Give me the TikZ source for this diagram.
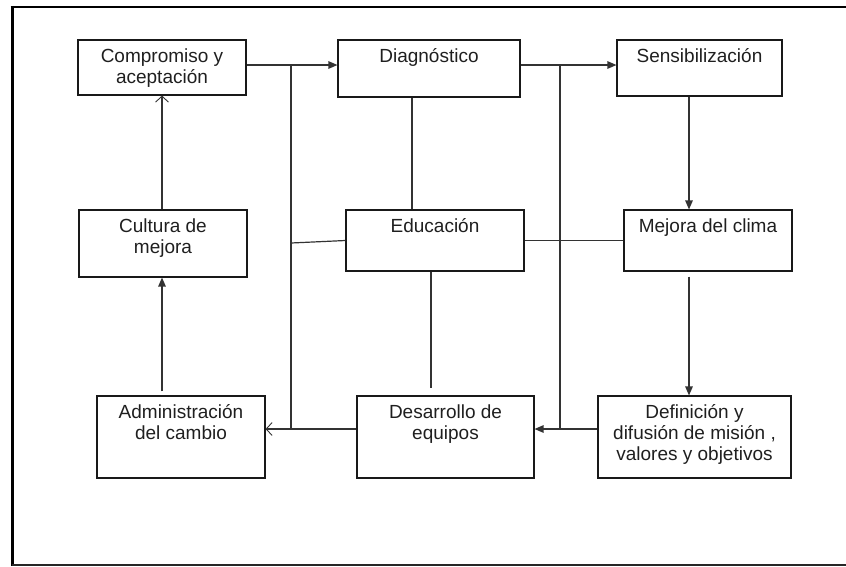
\documentclass[tikz,border=0pt]{standalone}
\usepackage{fontspec}
\setmainfont{Liberation Sans}
\usetikzlibrary{arrows.meta}
\begin{document}
\begin{tikzpicture}[x=1pt,y=-1pt,
  box/.style={draw=black!90, line width=1.1pt, rectangle, inner sep=0pt},
  txt/.style={anchor=north, inner sep=0pt, align=center, text=black!88,
    font=\fontsize{19}{21}\selectfont},
  link/.style={draw=black!80, line width=1.2pt},
  fill tip/.style={-{Triangle[length=9pt,width=7.5pt]}},
  open tip/.style={-{Straight Barb[length=6pt,width=13pt,line width=0.9pt]}}]
\useasboundingbox (0,0) rectangle (846,566);

% outer frame (open on the right)
\draw[line width=3pt, black] (12,5.75) -- (12,566);
\draw[line width=2.5pt, black] (10.5,7) -- (846,7);
\draw[line width=1.5pt, black!85] (12,565) -- (846,565);

% boxes
\node[box, minimum width=168pt, minimum height=55pt] (comp) at (162,67.5) {};
\node[box, minimum width=182pt, minimum height=57pt] (diag) at (429,68.5) {};
\node[box, minimum width=165pt, minimum height=56pt] (sens) at (699.5,68) {};
\node[box, minimum width=168pt, minimum height=67pt] (cult) at (163,243.5) {};
\node[box, minimum width=178pt, minimum height=61pt] (educ) at (435,240.5) {};
\node[box, minimum width=168pt, minimum height=61pt] (mej) at (708,240.5) {};
\node[box, minimum width=168pt, minimum height=82pt] (adm) at (181,437) {};
\node[box, minimum width=177pt, minimum height=82pt] (des) at (445.5,437) {};
\node[box, minimum width=193pt, minimum height=82pt] (def) at (694.5,437) {};

% box texts, set at the top of each box
\node[txt] (comp-t) at ([yshift=-8pt]comp.north) {\rule{0pt}{15pt}Compromiso y\\aceptación};
\node[txt] (diag-t) at ([yshift=-8pt]diag.north) {\rule{0pt}{15pt}Diagnóstico};
\node[txt] (sens-t) at ([yshift=-8pt]sens.north) {\rule{0pt}{15pt}Sensibilización};
\node[txt] (cult-t) at ([yshift=-8pt]cult.north) {\rule{0pt}{15pt}Cultura de\\mejora};
\node[txt] (educ-t) at ([yshift=-8pt]educ.north) {\rule{0pt}{15pt}Educación};
\node[txt] (mej-t) at ([yshift=-8pt]mej.north) {\rule{0pt}{15pt}Mejora del clima};
\node[txt] (adm-t) at ([yshift=-8pt]adm.north) {\rule{0pt}{15pt}Administración\\del cambio};
\node[txt] (des-t) at ([yshift=-8pt]des.north) {\rule{0pt}{15pt}Desarrollo de\\equipos};
\node[txt] (def-t) at ([yshift=-8pt]def.north) {\rule{0pt}{15pt}Definición y\\difusión de misión ,\\valores y objetivos};

% junction points of the two vertical buses
\coordinate (v1t) at (291,65);
\coordinate (v1m) at (291,243);
\coordinate (v1b) at (291,429);
\coordinate (v2t) at (560,65);
\coordinate (v2b) at (560,429);
% x positions of the vertical links
\coordinate (xd) at (412,0);
\coordinate (xe) at (431,0);
\coordinate (xa) at (689,0);
\coordinate (xc) at (162,0);

% top row
\draw[link, fill tip] (comp.east |- v1t) -- (diag.west |- v1t);
\draw[link, fill tip] (diag.east |- v2t) -- (sens.west |- v2t);

% vertical buses
\draw[link] (v1t) -- (v1b);
\draw[link] (v2t) -- (v2b);

% Educación links
\draw[link] (educ.west) -- (v1m);
\draw[link] (educ.east) -- (mej.west);
\draw[link] (diag.south -| xd) -- (educ.north -| xd);
\draw[link, shorten >=7pt] (educ.south -| xe) -- (des.north -| xe);

% right column
\draw[link, fill tip] (sens.south -| xa) -- (mej.north -| xa);
\draw[link, fill tip, shorten <=5pt] (mej.south -| xa) -- (def.north -| xa);

% bottom row
\draw[link, fill tip] (def.west |- v2b) -- (des.east |- v2b);
\draw[link, open tip] (des.west |- v1b) -- (adm.east |- v1b);

% left column
\draw[link, fill tip, shorten <=4pt] (adm.north -| xc) -- (cult.south -| xc);
\draw[link, open tip] (cult.north -| xc) -- (comp.south -| xc);
\end{tikzpicture}
\end{document}
